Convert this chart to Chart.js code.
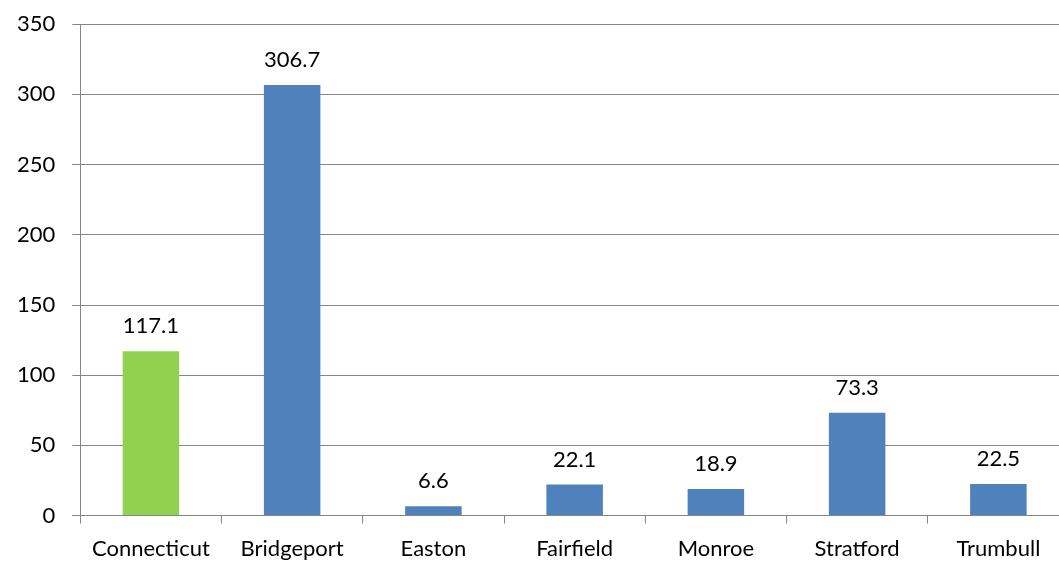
<!DOCTYPE html>
<html>
<head>
<meta charset="utf-8">
<script src="https://cdn.jsdelivr.net/npm/chart.js@4/dist/chart.umd.min.js"></script>
<style>
  html, body { margin: 0; padding: 0; background: #fff; overflow: hidden; }
  #wrap { width: 1073px; height: 580px; margin-top: -6px; }
</style>
</head>
<body>
<div id="wrap"><canvas id="chartCanvas"></canvas></div>
<script>
// chart data
const towns = ['Connecticut', 'Bridgeport', 'Easton', 'Fairfield', 'Monroe', 'Stratford', 'Trumbull'];
const rates = [117.1, 306.7, 6.6, 22.1, 18.9, 73.3, 22.5];
const barColors = ['#92D050', '#4F81BD', '#4F81BD', '#4F81BD', '#4F81BD', '#4F81BD', '#4F81BD'];

Chart.defaults.font.family = "Lato, 'Open Sans', sans-serif";
Chart.defaults.color = '#000';

// value labels above each bar
const valueLabels = {
  id: 'valueLabels',
  afterDatasetsDraw(chart) {
    const ctx = chart.ctx;
    const meta = chart.getDatasetMeta(0);
    ctx.save();
    ctx.font = "22px Lato, 'Open Sans', sans-serif";
    ctx.fillStyle = '#000';
    ctx.textAlign = 'center';
    ctx.textBaseline = 'middle';
    meta.data.forEach((bar, i) => {
      ctx.fillText(rates[i].toFixed(1), bar.x, bar.y - 25);
    });
    ctx.restore();
  }
};

new Chart(document.getElementById('chartCanvas').getContext('2d'), {
  type: 'bar',
  data: {
    labels: towns,
    datasets: [{
      data: rates,
      backgroundColor: barColors,
      borderWidth: 0,
      barPercentage: 0.4,
      categoryPercentage: 1.0
    }]
  },
  options: {
    responsive: true,
    maintainAspectRatio: false,
    animation: false,
    layout: { padding: { top: 2, right: 4, left: 0, bottom: 0 } },
    plugins: {
      legend: { display: false },
      tooltip: { enabled: false }
    },
    scales: {
      x: {
        grid: {
          offset: true,
          drawOnChartArea: false,
          drawTicks: true,
          tickLength: 8,
          color: '#868686'
        },
        border: { color: '#868686', width: 1 },
        ticks: { font: { size: 22 }, padding: 12, maxRotation: 0, autoSkip: false }
      },
      y: {
        min: 0,
        max: 350,
        grid: { color: '#868686', tickLength: 8 },
        border: { color: '#868686', width: 1 },
        ticks: { stepSize: 50, font: { size: 22 }, padding: 17 }
      }
    }
  },
  plugins: [valueLabels]
});
</script>
</body>
</html>
